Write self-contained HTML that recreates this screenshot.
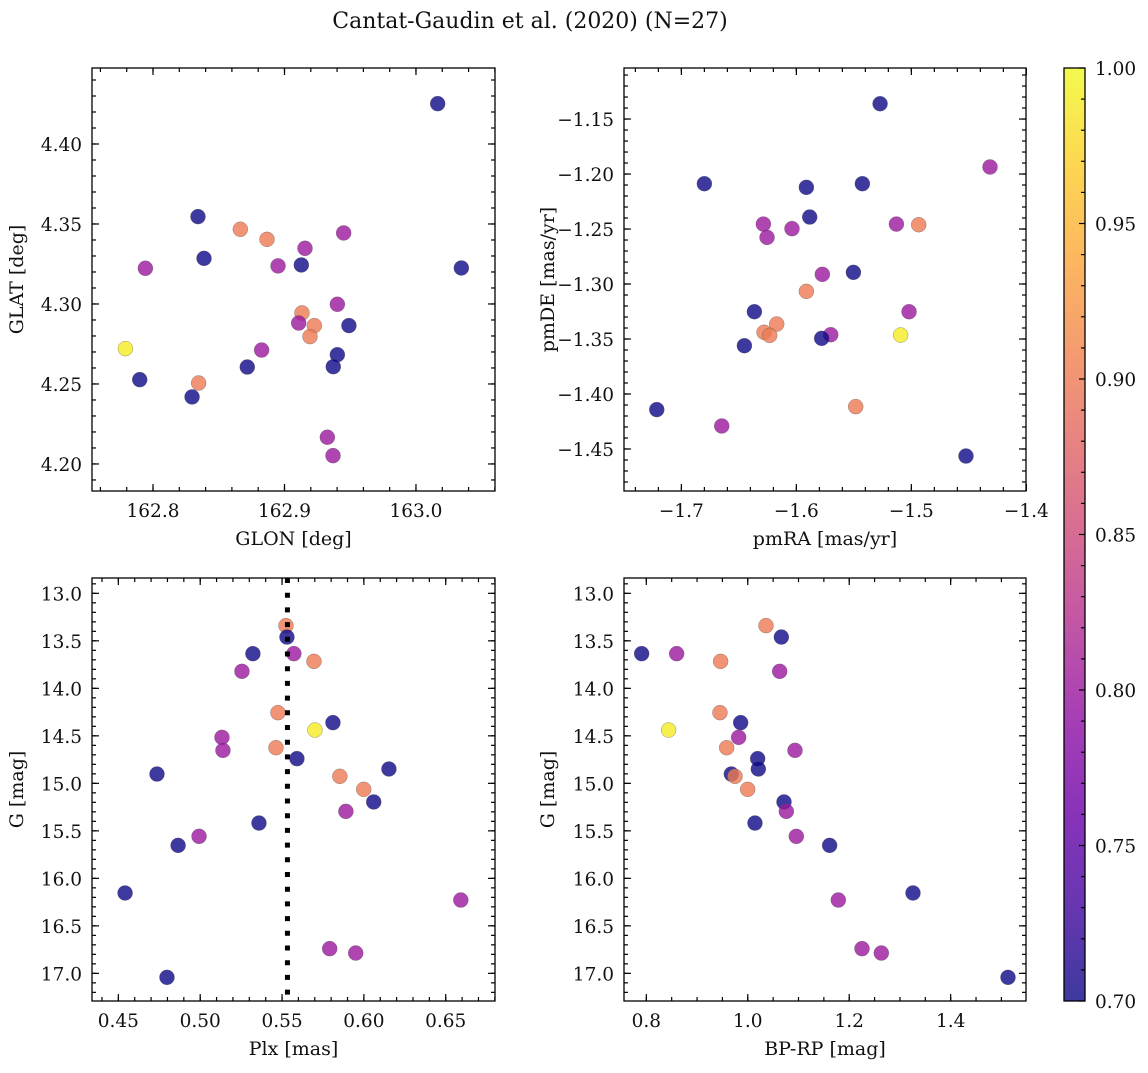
<!DOCTYPE html>
<html>
<head>
<meta charset="utf-8">
<style>
  html,body{margin:0;padding:0;background:#fff;}
  svg text{font-family:"DejaVu Serif","Liberation Serif",serif;fill:#111;}
</style>
</head>
<body>
<svg id="fig" width="1148" height="1068" viewBox="0 0 1148 1068" xmlns="http://www.w3.org/2000/svg">
  <rect x="0" y="0" width="1148" height="1068" fill="#fff"/>
  <text x="530" y="28" font-size="22" text-anchor="middle">Cantat-Gaudin et al. (2020) (N=27)</text>
</svg>
<script>
// ---------- Data ----------
const glon = [163.0165,162.8342,162.8664,162.8867,162.9450,162.9156,162.8388,162.7942,162.9128,162.8951,163.0345,162.9133,162.9402,162.9108,162.9227,162.9490,162.9194,162.7790,162.8826,162.9402,162.9371,162.7899,162.8347,162.8717,162.8297,162.9326,162.9369];
const glat = [4.4252,4.3546,4.3467,4.3404,4.3444,4.3348,4.3285,4.3223,4.3244,4.3238,4.3225,4.2944,4.2998,4.2881,4.2865,4.2865,4.2796,4.2721,4.2712,4.2683,4.2608,4.2527,4.2506,4.2606,4.2419,4.2167,4.2052];
const probTL = [0.70,0.70,0.90,0.90,0.80,0.80,0.70,0.80,0.70,0.80,0.70,0.90,0.80,0.80,0.90,0.70,0.90,0.99,0.80,0.70,0.70,0.70,0.90,0.70,0.70,0.80,0.80];
const pmra = [-1.5272,-1.4316,-1.6800,-1.5913,-1.5426,-1.5884,-1.6287,-1.6255,-1.6038,-1.5130,-1.4936,-1.5504,-1.5774,-1.5913,-1.6365,-1.5020,-1.6171,-1.6281,-1.6232,-1.5701,-1.5780,-1.5093,-1.6452,-1.5484,-1.7214,-1.6649,-1.4525];
const pmde = [-1.1361,-1.1936,-1.2088,-1.2121,-1.2088,-1.2391,-1.2455,-1.2576,-1.2497,-1.2455,-1.2461,-1.2894,-1.2912,-1.3067,-1.3252,-1.3252,-1.3364,-1.3439,-1.3467,-1.3461,-1.3494,-1.3464,-1.3561,-1.4115,-1.4142,-1.4291,-1.4564];
const probTR = [0.70,0.80,0.70,0.70,0.70,0.70,0.80,0.80,0.80,0.80,0.90,0.70,0.80,0.90,0.70,0.80,0.90,0.90,0.90,0.80,0.70,0.99,0.70,0.90,0.70,0.80,0.70];
const G_mag = [13.340,13.460,13.635,13.635,13.716,13.821,14.256,14.439,14.361,14.516,14.653,14.625,14.740,14.849,14.902,14.926,15.063,15.196,15.295,15.418,15.558,15.653,16.154,16.228,16.740,16.786,17.042];
const plx = [0.5524,0.5530,0.5322,0.5572,0.5695,0.5255,0.5475,0.5701,0.5811,0.5133,0.5139,0.5463,0.5591,0.6153,0.4736,0.5853,0.5999,0.6060,0.5890,0.5359,0.4993,0.4865,0.4541,0.6592,0.5791,0.5950,0.4797];
const bprp = [1.0359,1.0662,0.7908,0.8598,0.9465,1.0629,0.9452,0.8440,0.9860,0.9820,1.0931,0.9584,1.0195,1.0208,0.9676,0.9748,0.9998,1.0714,1.0760,1.0142,1.0957,1.1614,1.3257,1.1785,1.2252,1.2633,1.5130];
const probB = [0.90,0.70,0.70,0.80,0.90,0.80,0.90,0.99,0.70,0.80,0.80,0.90,0.70,0.70,0.70,0.90,0.90,0.70,0.80,0.70,0.80,0.70,0.70,0.80,0.80,0.80,0.70];
const plxMean = [0.5533];
const ticksGLON = [162.8,162.9,163.0];
const ticksGLAT = [4.20,4.25,4.30,4.35,4.40];
const ticksPMRA = [-1.7,-1.6,-1.5,-1.4];
const ticksPMDE = [-1.45,-1.40,-1.35,-1.30,-1.25,-1.20,-1.15];
const ticksPLX = [0.45,0.50,0.55,0.60,0.65];
const ticksBPRP = [0.8,1.0,1.2,1.4];
const ticksG = [13.0,13.5,14.0,14.5,15.0,15.5,16.0,16.5,17.0];
const ticksCbar = [0.70,0.75,0.80,0.85,0.90,0.95,1.00];

// ---------- Helpers ----------
const NS = "http://www.w3.org/2000/svg";
const svg = document.getElementById('fig');
const TF = 18.5, LF = 19;
function mk(tag, attrs, parent){
  const e = document.createElementNS(NS, tag);
  for (const k in attrs) e.setAttribute(k, attrs[k]);
  (parent||svg).appendChild(e);
  return e;
}
const plasmaStops = ["#0d0887","#41049d","#6a00a8","#8f0da4","#b12a90","#cc4778","#e16462","#f2844b","#fca636","#fcce25","#f0f921"];
function hex2rgb(h){return [parseInt(h.substr(1,2),16),parseInt(h.substr(3,2),16),parseInt(h.substr(5,2),16)];}
function plasma(t){
  t = Math.max(0,Math.min(1,t));
  const s = t*10, i = Math.min(9,Math.floor(s)), f = s-i;
  const a = hex2rgb(plasmaStops[i]), b = hex2rgb(plasmaStops[i+1]);
  return "rgb("+a.map((v,k)=>Math.round(v+(b[k]-v)*f)).join(",")+")";
}
function cnorm(p){return (p-0.70)/0.30;}
function fmt(v, d){ const s = v.toFixed(d); return s.replace("-","\u2212"); }

function panel(cfg){
  const g = mk('g', {});
  
  
  const sx = v => cfg.x0 + (v-cfg.xmin)/(cfg.xmax-cfg.xmin)*(cfg.x1-cfg.x0);
  const sy = cfg.invert
    ? v => cfg.y0 + (v-cfg.ymin)/(cfg.ymax-cfg.ymin)*(cfg.y1-cfg.y0)
    : v => cfg.y1 - (v-cfg.ymin)/(cfg.ymax-cfg.ymin)*(cfg.y1-cfg.y0);
  const pts = mk('g', {}, g);
  
  
  for (let i=0;i<cfg.xs.length;i++){
    const c = mk('circle', {cx:sx(cfg.xs[i]), cy:sy(cfg.ys[i]), r:7.5, fill:plasma(cnorm(cfg.cs[i])), 'fill-opacity':0.8, stroke:'#555', 'stroke-width':0.5, 'stroke-opacity':0.6}, pts);
    
    
  }
  if (cfg.vline){
    const l = mk('line', {x1:sx(cfg.vline[0]), x2:sx(cfg.vline[0]), y1:cfg.y0, y2:cfg.y1, stroke:'#000', 'stroke-width':5, 'stroke-dasharray':'5 9.7'}, g);
    
    
  }
  const fr = mk('rect', {x:cfg.x0, y:cfg.y0, width:cfg.x1-cfg.x0, height:cfg.y1-cfg.y0, fill:'none', stroke:'#000', 'stroke-width':1.3}, g);
  
  
  const tk = mk('g', {stroke:'#000', 'stroke-width':1.2}, g);
  
  
  const eps = 1e-9;
  let st = Math.ceil(cfg.xmin/cfg.xminor - eps);
  for (let k=st; k*cfg.xminor<=cfg.xmax+eps; k++){
    const X = sx(k*cfg.xminor);
    mk('line',{x1:X,x2:X,y1:cfg.y1,y2:cfg.y1-4},tk); mk('line',{x1:X,x2:X,y1:cfg.y0,y2:cfg.y0+4},tk);
  }
  st = Math.ceil(cfg.ymin/cfg.yminor - eps);
  for (let k=st; k*cfg.yminor<=cfg.ymax+eps; k++){
    const Y = sy(k*cfg.yminor);
    mk('line',{x1:cfg.x0,x2:cfg.x0+4,y1:Y,y2:Y},tk); mk('line',{x1:cfg.x1,x2:cfg.x1-4,y1:Y,y2:Y},tk);
  }
  cfg.xt.forEach(v=>{
    const X = sx(v);
    mk('line',{x1:X,x2:X,y1:cfg.y1,y2:cfg.y1-7},tk); mk('line',{x1:X,x2:X,y1:cfg.y0,y2:cfg.y0+7},tk);
    const t = mk('text',{x:X, y:cfg.y1+26, 'font-size':TF, 'text-anchor':'middle'}, g);
    t.textContent = fmt(v, cfg.xd);
    
    
  });
  cfg.yt.forEach(v=>{
    const Y = sy(v);
    mk('line',{x1:cfg.x0,x2:cfg.x0+7,y1:Y,y2:Y},tk); mk('line',{x1:cfg.x1,x2:cfg.x1-7,y1:Y,y2:Y},tk);
    const t = mk('text',{x:cfg.x0-10, y:Y+7, 'font-size':TF, 'text-anchor':'end'}, g);
    t.textContent = fmt(v, cfg.yd);
    
    
  });
  const xl = mk('text',{x:(cfg.x0+cfg.x1)/2, y:cfg.y1+54, 'font-size':LF, 'text-anchor':'middle'}, g);
  xl.textContent = cfg.xlabel;
  
  
  const yx = cfg.ylx, yy = (cfg.y0+cfg.y1)/2;
  const yl = mk('text',{x:yx, y:yy, 'font-size':LF, 'text-anchor':'middle', transform:'rotate(-90 '+yx+' '+yy+')'}, g);
  yl.textContent = cfg.ylabel;
  
  
}

panel({name:'glon-glat-panel', x0:92,x1:495,y0:68,y1:491, xmin:162.7536,xmax:163.0601, ymin:4.1831,ymax:4.4475, xs:glon, ys:glat, cs:probTL, xt:ticksGLON, yt:ticksGLAT, xd:1, yd:2, xminor:0.02, yminor:0.01, xlabel:'GLON [deg]', ylabel:'GLAT [deg]', ylx:23});
panel({name:'proper-motion-panel', x0:624,x1:1026,y0:68,y1:491, xmin:-1.7499,xmax:-1.4003, ymin:-1.4882,ymax:-1.1036, xs:pmra, ys:pmde, cs:probTR, xt:ticksPMRA, yt:ticksPMDE, xd:1, yd:2, xminor:0.02, yminor:0.01, xlabel:'pmRA [mas/yr]', ylabel:'pmDE [mas/yr]', ylx:554});
panel({name:'parallax-magnitude-panel', x0:92,x1:495,y0:578,y1:1001, xmin:0.4339,xmax:0.6801, ymin:12.8386,ymax:17.291, invert:true, xs:plx, ys:G_mag, cs:probB, xt:ticksPLX, yt:ticksG, xd:2, yd:1, xminor:0.01, yminor:0.1, xlabel:'Plx [mas]', ylabel:'G [mag]', ylx:23, vline:plxMean});
panel({name:'color-magnitude-panel', x0:624,x1:1026,y0:578,y1:1001, xmin:0.7560,xmax:1.5485, ymin:12.8386,ymax:17.291, invert:true, xs:bprp, ys:G_mag, cs:probB, xt:ticksBPRP, yt:ticksG, xd:1, yd:1, xminor:0.05, yminor:0.1, xlabel:'BP-RP [mag]', ylabel:'G [mag]', ylx:554});

// ---------- Colorbar ----------
(function(){
  const cx0=1064, cx1=1085, cy0=68, cy1=1001;
  const g = mk('g', {});
  
  
  const defs = mk('defs', {}, g);
  const lg = mk('linearGradient', {id:'cbgrad', x1:0, y1:1, x2:0, y2:0}, defs);
  for (let i=0;i<=20;i++){ mk('stop',{offset:(i/20), 'stop-color':plasma(i/20), 'stop-opacity':0.8}, lg); }
  const r = mk('rect',{x:cx0,y:cy0,width:cx1-cx0,height:cy1-cy0,fill:'url(#cbgrad)',stroke:'#000','stroke-width':1.3}, g);
  
  
  const sy = v => cy1 - (v-0.70)/0.30*(cy1-cy0);
  for (let k=70;k<=100;k++){
    const Y = sy(k/100);
    const major = (k%5===0);
    mk('line',{x1:cx1,x2:cx1-(major?6:4),y1:Y,y2:Y,stroke:'#000','stroke-width':1.2}, g);
  }
  ticksCbar.forEach(v=>{
    const t = mk('text',{x:cx1+10, y:sy(v)+7, 'font-size':TF}, g);
    t.textContent = v.toFixed(2);
    
    
  });
})();
</script>
</body>
</html>
